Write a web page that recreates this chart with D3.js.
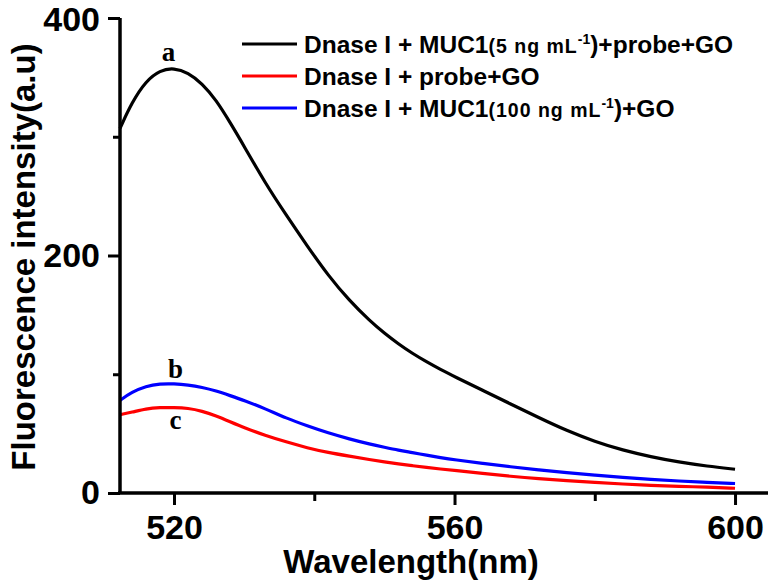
<!DOCTYPE html>
<html>
<head>
<meta charset="utf-8">
<script src="https://cdn.jsdelivr.net/npm/d3@7"></script>
<style>
  html, body { margin: 0; padding: 0; background: #fff; }
  svg { display: block; }
</style>
</head>
<body>
<svg id="chart" width="772" height="582"></svg>
<script>
// ---- data ----
const wavelengths = [512.3, 514, 516, 518, 520, 522, 524, 526, 528, 530, 533, 536, 539, 542, 545, 548, 550, 552, 554, 556, 558, 560, 564, 568, 572, 576, 580, 584, 588, 592, 596, 600];
const seriesA = [307, 329, 347, 356, 358, 354, 345, 331, 312, 292, 261, 234, 208, 183, 162, 144.5, 134.5, 125.5, 117.5, 110.5, 104, 98, 86.5, 75, 63.5, 52.5, 43.3, 36, 30.5, 26, 22.6, 20];
const seriesB = [78, 85, 90, 92, 92, 91, 89, 86, 82, 78, 71, 63, 56.5, 50.5, 45.5, 41, 38.5, 36, 34, 31.8, 29.8, 28, 25, 22, 19.5, 17, 15, 13, 11.5, 10, 9, 8];
const seriesC = [66, 68, 71, 72, 72, 71.5, 69, 65, 60, 55, 48.5, 43, 38, 34, 31, 28, 26.2, 24.5, 23, 21.5, 20.2, 19, 16.5, 14, 12, 10.5, 9, 7.5, 6.5, 5.5, 5, 4];
const xMajorTicks = [520, 560, 600];
const xMinorTicks = [540, 580];
const yMajorTicks = [0, 200, 400];
const yMinorTicks = [100, 300];
const curveLabels = [
  { text: "a", wl: 519.2, value: 358, dy: -7 },
  { text: "b", wl: 520.2, value: 92, dy: -6 },
  { text: "c", wl: 520.2, value: 72, dy: 21 }
];
const legendItems = [
  [{ t: "Dnase I + MUC1" }, { t: "(5 ng mL", small: true }, { t: "-1", sup: true }, { t: ")+probe+GO", after: true }],
  [{ t: "Dnase I + probe+GO" }],
  [{ t: "Dnase I + MUC1" }, { t: "(100 ng mL", small: true }, { t: "-1", sup: true }, { t: ")+GO", after: true }]
];
const legendColors = ["#000000", "#ff0000", "#0000ff"];

// ---- chart ----
const SANS = "'Liberation Sans', Arial, sans-serif";
const SERIF = "'Liberation Serif', 'Times New Roman', serif";
const svg = d3.select("#chart");
const x = d3.scaleLinear().domain([512.3, 604.7]).range([120, 768]);
const y = d3.scaleLinear().domain([0, 400]).range([493, 18]);

// curves
const line = d3.line().x(d => x(d[0])).y(d => y(d[1])).curve(d3.curveBasis);
const drawSeries = [[seriesA, "#000000"], [seriesB, "#0000ff"], [seriesC, "#ff0000"]];
drawSeries.forEach(([vals, col]) => {
  svg.append("path")
    .datum(wavelengths.map((w, i) => [w, vals[i]]))
    .attr("d", line)
    .attr("fill", "none")
    .attr("stroke", col)
    .attr("stroke-width", 3.2)
    .attr("stroke-linejoin", "round");
});

// axes
const xAxis = svg.append("g").attr("transform", `translate(0,${y(0)})`)
  .call(d3.axisBottom(x).tickValues(xMajorTicks).tickSize(12).tickPadding(10).tickFormat(d3.format("d")));
const xMinor = svg.append("g").attr("transform", `translate(0,${y(0)})`)
  .call(d3.axisBottom(x).tickValues(xMinorTicks).tickSize(8).tickFormat(""));
const yAxis = svg.append("g").attr("transform", `translate(${x(512.3)},0)`)
  .call(d3.axisLeft(y).tickValues(yMajorTicks).tickSize(12).tickPadding(8).tickFormat(d3.format("d")));
const yMinor = svg.append("g").attr("transform", `translate(${x(512.3)},0)`)
  .call(d3.axisLeft(y).tickValues(yMinorTicks).tickSize(7).tickFormat(""));

[xAxis, xMinor, yAxis, yMinor].forEach(g => {
  g.select(".domain").attr("stroke", "#000").attr("stroke-width", 3.5);
  g.selectAll(".tick line").attr("stroke", "#000").attr("stroke-width", 3);
  g.selectAll(".tick text").attr("fill", "#000").attr("font-size", 34)
    .attr("font-family", SANS).attr("font-weight", "bold");
});
xMinor.select(".domain").remove();
yMinor.select(".domain").remove();
yAxis.select(".domain").attr("d", `M0,${y(400)}V${y(0)}`);
xAxis.select(".domain").attr("d", `M${x(512.3) - 2},0H${x(604.7)}`);
yAxis.selectAll(".tick text").filter(d => d === 400).attr("dy", "0.36em");

// axis titles
svg.append("text")
  .attr("x", 411).attr("y", 573)
  .attr("text-anchor", "middle")
  .attr("font-family", SANS).attr("font-weight", "bold")
  .attr("font-size", 33)
  .text("Wavelength(nm)");
svg.append("text")
  .attr("transform", "translate(35,257) rotate(-90)")
  .attr("text-anchor", "middle")
  .attr("font-family", SANS).attr("font-weight", "bold")
  .attr("font-size", 33)
  .text("Fluorescence intensity(a.u)");

// curve labels
curveLabels.forEach(l => {
  svg.append("text")
    .attr("x", x(l.wl)).attr("y", y(l.value) + l.dy)
    .attr("text-anchor", "middle")
    .attr("font-family", SERIF)
    .attr("font-weight", "bold")
    .attr("font-size", 27)
    .text(l.text);
});

// legend
const legY = [44, 76, 108];
legendItems.forEach((parts, i) => {
  svg.append("line")
    .attr("x1", 242).attr("x2", 297)
    .attr("y1", legY[i]).attr("y2", legY[i])
    .attr("stroke", legendColors[i]).attr("stroke-width", 3.2);
  const t = svg.append("text")
    .attr("x", 304).attr("y", legY[i] + 8.5)
    .attr("font-family", SANS).attr("font-weight", "bold")
    .attr("font-size", 24.5);
  parts.forEach(p => {
    const ts = t.append("tspan").text(p.t);
    if (p.small) ts.attr("font-size", 19.5).attr("letter-spacing", 1);
    if (p.sup) ts.attr("font-size", 14).attr("dy", -9);
    if (p.after) ts.attr("dy", 9);
  });
});
</script>
</body>
</html>
